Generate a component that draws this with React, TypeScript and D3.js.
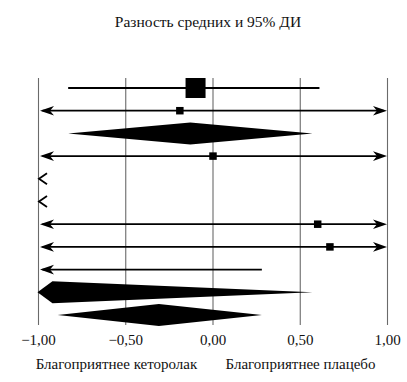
import React from "react";
import * as d3 from "d3";

// Forest plot data (mean difference and 95% CI)
const rowIds = ["r1", "r2", "r3", "r4", "r5", "r6", "r7", "r8", "r9", "r10", "r11"];
const means = [-0.10, -0.19, -0.13, 0.0, -1.6, -1.6, 0.60, 0.67, -1.3, -0.92, -0.31];
const lowers = [-0.83, -1.6, -0.83, -1.5, -2.5, -2.5, -1.5, -1.5, -1.6, -1.4, -0.89];
const uppers = [0.61, 1.5, 0.57, 1.5, -1.1, -1.1, 1.5, 1.5, 0.28, 0.57, 0.28];
const kinds = ["study", "study", "pooled", "study", "study", "study", "study", "study", "study", "pooled", "pooled"];
const weights = [40, 5.6, 0, 5.6, 5.6, 5.6, 5.6, 5.6, 0, 0, 0];
const tickValues = [-1, -0.5, 0, 0.5, 1];
const title = "Разность средних и 95% ДИ";
const favourLeft = "Благоприятнее кеторолак";
const favourRight = "Благоприятнее плацебо";

const W = 407;
const H = 382;
const FONT = "Liberation Serif";

export default function App() {
  const x = d3.scaleLinear().domain([-1, 1]).range([38.5, 387.5]);
  const y = d3.scaleLinear().domain([0, rowIds.length - 1]).range([88, 315]);
  const size = d3.scaleSqrt().domain([0, 40]).range([0, 20]);
  const fmt = (v: number) => d3.format(".2f")(v).replace("-", "−").replace(".", ",");
  const [xmin, xmax] = x.domain();
  const gridTop = 78;
  const gridBottom = 325;
  const h = 11;

  const leftStealth = (yy: number) => {
    const t = x(xmin) + 1.5;
    return `M${t},${yy} L${t + 14},${yy - 4.8} L${t + 10},${yy} L${t + 14},${yy + 4.8} Z`;
  };
  const rightStealth = (yy: number) => {
    const t = x(xmax) - 0.5;
    return `M${t},${yy} L${t - 14},${yy - 4.8} L${t - 10},${yy} L${t - 14},${yy + 4.8} Z`;
  };
  const textStyle = { fontFamily: FONT };

  return (
    <svg width={W} height={H} style={{ display: "block", position: "absolute", left: 0, top: 0 }}>
      <rect width={W} height={H} fill="#fff" />
      <text x={208} y={27} textAnchor="middle" style={textStyle} fontSize={15.5} fill="#111">
        {title}
      </text>
      {tickValues.map((t) => (
        <line key={"g" + t} x1={x(t)} x2={x(t)} y1={gridTop} y2={gridBottom} stroke="#6a6a6a" strokeWidth={1.1} />
      ))}
      {tickValues.map((t) => (
        <text key={"t" + t} x={x(t)} y={345} textAnchor="middle" style={textStyle} fontSize={15} fill="#111">
          {fmt(t)}
        </text>
      ))}
      <text x={116.5} y={369} textAnchor="middle" style={textStyle} fontSize={15} fill="#111">
        {favourLeft}
      </text>
      <text x={300.5} y={369} textAnchor="middle" style={textStyle} fontSize={15} fill="#111">
        {favourRight}
      </text>
      {rowIds.map((id, i) => {
        const yy = y(i);
        const m = means[i];
        const lo = lowers[i];
        const hi = uppers[i];
        if (kinds[i] === "pooled") {
          const lx = lo < xmin ? x(xmin) - 1 : x(lo);
          const rx = hi > xmax ? x(xmax) : x(hi);
          const mx = x(m);
          const pts = [
            [lx, yy],
            [mx, yy - h],
            [rx, yy],
            [mx, yy + h],
          ];
          return <polygon key={id} points={pts.map((p) => p.join(",")).join(" ")} fill="#000" />;
        }
        if (hi < xmin) {
          const t = x(xmin);
          return (
            <path
              key={id}
              d={`M${t + 8.5},${yy - 5.5} L${t + 0.5},${yy} L${t + 8.5},${yy + 5.5}`}
              fill="none"
              stroke="#000"
              strokeWidth={1.8}
            />
          );
        }
        const x1 = lo < xmin ? x(xmin) + 4 : x(lo);
        const x2 = hi > xmax ? x(xmax) - 4 : x(hi);
        const s = size(weights[i]);
        return (
          <g key={id}>
            <line x1={x1} x2={x2} y1={yy} y2={yy} stroke="#000" strokeWidth={i === 0 ? 2.2 : 1.8} />
            {lo < xmin && <path d={leftStealth(yy)} fill="#000" />}
            {hi > xmax && <path d={rightStealth(yy)} fill="#000" />}
            {m >= xmin && m <= xmax && s > 0 && (
              <rect x={x(m) - s / 2} y={yy - s / 2} width={s} height={s} fill="#000" />
            )}
          </g>
        );
      })}
    </svg>
  );
}
